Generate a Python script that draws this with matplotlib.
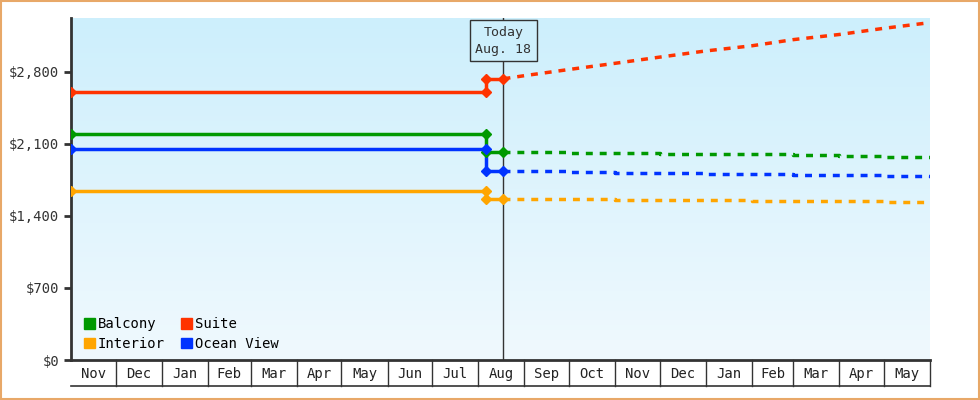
import numpy as np
import matplotlib.pyplot as plt
import matplotlib.dates as mdates
from matplotlib.transforms import blended_transform_factory
from datetime import date

plt.rcParams['font.family'] = ['DejaVu Sans Mono']

# Historic prices (flat, then step on Aug 6)
hist_dates = [date(2023, 11, 1), date(2024, 8, 6)]
step_date = date(2024, 8, 7)
today = date(2024, 8, 18)
hist = {
    'Suite': [2600, 2600],
    'Balcony': [2195, 2195],
    'Ocean View': [2050, 2050],
    'Interior': [1640, 1640],
}
new_price = {'Suite': 2730, 'Balcony': 2020, 'Ocean View': 1835, 'Interior': 1565}

# Forecast (dashed)
fc_dates = [date(2024, 8, 18), date(2024, 9, 1), date(2024, 10, 1), date(2024, 11, 1),
            date(2024, 12, 1), date(2025, 1, 1), date(2025, 2, 1), date(2025, 3, 1),
            date(2025, 4, 1), date(2025, 5, 1), date(2025, 6, 1)]
forecast = {
    'Suite': [2730, 2760, 2820, 2880, 2940, 3000, 3050, 3110, 3160, 3220, 3275],
    'Balcony': [2020, 2020, 2010, 2010, 2000, 2000, 1995, 1990, 1985, 1975, 1970],
    'Ocean View': [1835, 1835, 1825, 1820, 1815, 1810, 1805, 1800, 1795, 1785, 1777],
    'Interior': [1565, 1565, 1560, 1555, 1550, 1550, 1548, 1545, 1540, 1538, 1536],
}
colors = {'Balcony': '#009900', 'Suite': '#ff3300', 'Interior': '#ffa500', 'Ocean View': '#0033ff'}
months = ['Nov', 'Dec', 'Jan', 'Feb', 'Mar', 'Apr', 'May', 'Jun', 'Jul', 'Aug',
          'Sep', 'Oct', 'Nov', 'Dec', 'Jan', 'Feb', 'Mar', 'Apr', 'May']

fig = plt.figure(figsize=(9.8, 4), dpi=100)
fig.patches.append(plt.Rectangle((0.001, 0.002), 0.998, 0.995, transform=fig.transFigure,
                                 fill=False, edgecolor='#e8a868', linewidth=1.5))
ax = fig.add_axes([71 / 980, 40 / 400, 859 / 980, 342 / 400])

x0 = mdates.date2num(date(2023, 11, 1))
x1 = mdates.date2num(date(2025, 6, 1))
ax.set_xlim(x0, x1)
ax.set_ylim(0, 3320)

# gradient background
grad = np.linspace(0, 1, 256).reshape(-1, 1)
ax.imshow(grad, aspect='auto', extent=[x0, x1, 0, 3320], origin='lower',
          cmap=plt.matplotlib.colors.LinearSegmentedColormap.from_list('bg', ['#f0f9fe', '#cdeffc']),
          zorder=0)

for name in ['Suite', 'Balcony', 'Ocean View', 'Interior']:
    c = colors[name]
    hx = [mdates.date2num(d) for d in hist_dates]
    ax.plot(hx, hist[name], color=c, lw=2.5, zorder=3)
    sx = [hx[-1], mdates.date2num(step_date), mdates.date2num(today)]
    sy = [hist[name][-1], new_price[name], new_price[name]]
    ax.plot([sx[0], sx[0], sx[2]], [sy[0], sy[1], sy[2]], color=c, lw=2.5, zorder=3)
    ax.plot([hx[0], sx[0], sx[0], sx[2]], [sy[0], sy[0], sy[1], sy[2]], 'D', color=c, ms=5, zorder=4)
    fx = [mdates.date2num(d) for d in fc_dates]
    ds = 'default' if name == 'Suite' else 'steps-post'
    ax.plot(fx, forecast[name], color=c, lw=2.5, ls=(0, (2, 2)), drawstyle=ds, zorder=3)

# today line and box
tx = mdates.date2num(today)
ax.axvline(tx, color='#333333', lw=1, zorder=2)
ax.text(tx, 3100, 'Today\nAug. 18', ha='center', va='center', fontsize=9.5, color='#333333',
        linespacing=1.4, zorder=5,
        bbox=dict(boxstyle='square,pad=0.4', fc='#cdeffc', ec='#333333', lw=1))

# y axis
ax.set_yticks([0, 700, 1400, 2100, 2800])
ax.set_yticklabels(['$0', '$700', '$1,400', '$2,100', '$2,800'], fontsize=10, color='#333333')
ax.tick_params(axis='y', length=5, width=2, color='#333333')
for s in ['top', 'right']:
    ax.spines[s].set_visible(False)
ax.spines['left'].set_linewidth(2)
ax.spines['left'].set_color('#333333')
ax.spines['bottom'].set_linewidth(2)
ax.spines['bottom'].set_color('#333333')

# month cells
ax.set_xticks([])
trans = blended_transform_factory(ax.transData, ax.transAxes)
y, m = 2023, 11
for lab in months:
    a = mdates.date2num(date(y, m, 1))
    m += 1
    if m > 12:
        m, y = 1, y + 1
    b = mdates.date2num(date(y, m, 1))
    ax.text((a + b) / 2, -0.04, lab, transform=trans, ha='center', va='center',
            fontsize=10, color='#222222', clip_on=False)
    ax.plot([b, b], [0, -0.075], transform=trans, color='#333333', lw=1, clip_on=False)
ax.plot([x0, x1], [-0.075, -0.075], transform=trans, color='#333333', lw=1.2, clip_on=False)

# legend
handles = [plt.Rectangle((0, 0), 1, 1, color=colors[n]) for n in ['Balcony', 'Interior', 'Suite', 'Ocean View']]
ax.legend(handles, ['Balcony', 'Interior', 'Suite', 'Ocean View'], ncol=2, loc='lower left',
          bbox_to_anchor=(0.0, -0.01), frameon=False, fontsize=10, handlelength=0.8,
          handleheight=0.8, handletextpad=0.2, columnspacing=1.2, labelspacing=0.4)

fig.savefig('out.png', dpi=100)
